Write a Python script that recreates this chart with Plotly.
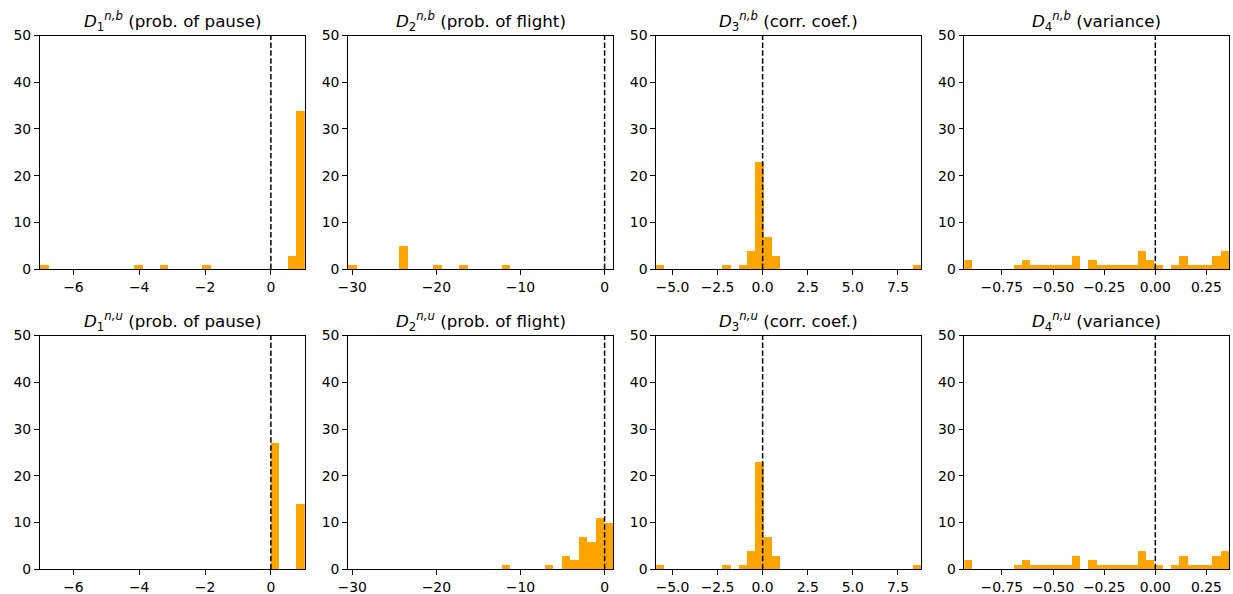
import numpy as np
import plotly.graph_objects as go

# ---------------- data ----------------
# bin ranges (min, max) and number of bins per column
p1_range, p1_nbins = (-7.02, 1.03), 31
p2_range, p2_nbins = (-30.5, 1.0), 31
p3_range, p3_nbins = (-5.9, 8.79), 32
p4_range, p4_nbins = (-0.933, 0.362), 32

# histogram counts, top row (n,b) and bottom row (n,u)
p1b_counts = [1, 0, 0, 0, 0, 0, 0, 0, 0, 0, 0, 1, 0, 0, 1, 0, 0, 0, 0, 1,
              0, 0, 0, 0, 0, 0, 0, 0, 0, 3, 34]
p1u_counts = [0, 0, 0, 0, 0, 0, 0, 0, 0, 0, 0, 0, 0, 0, 0, 0, 0, 0, 0, 0,
              0, 0, 0, 0, 0, 0, 0, 27, 0, 0, 14]
p2b_counts = [1, 0, 0, 0, 0, 0, 5, 0, 0, 0, 1, 0, 0, 1, 0, 0, 0, 0, 1, 0,
              0, 0, 0, 0, 0, 0, 0, 0, 0, 0, 0]
p2u_counts = [0, 0, 0, 0, 0, 0, 0, 0, 0, 0, 0, 0, 0, 0, 0, 0, 0, 0, 1, 0,
              0, 0, 0, 1, 0, 3, 2, 7, 6, 11, 10]
p3b_counts = [1, 0, 0, 0, 0, 0, 0, 0, 1, 0, 1, 4, 23, 7, 3, 0, 0, 0, 0, 0,
              0, 0, 0, 0, 0, 0, 0, 0, 0, 0, 0, 1]
p3u_counts = [1, 0, 0, 0, 0, 0, 0, 0, 1, 0, 1, 4, 23, 7, 3, 0, 0, 0, 0, 0,
              0, 0, 0, 0, 0, 0, 0, 0, 0, 0, 0, 1]
p4b_counts = [2, 0, 0, 0, 0, 0, 1, 2, 1, 1, 1, 1, 1, 3, 0, 2, 1, 1, 1, 1,
              1, 4, 2, 1, 0, 1, 3, 1, 1, 1, 3, 4]
p4u_counts = [2, 0, 0, 0, 0, 0, 1, 2, 1, 1, 1, 1, 1, 3, 0, 2, 1, 1, 1, 1,
              1, 4, 2, 1, 0, 1, 3, 1, 1, 1, 3, 4]

# tick values / labels per column
p1_ticks = [-6, -4, -2, 0]
p1_ticklabels = ["\u22126", "\u22124", "\u22122", "0"]
p2_ticks = [-30, -20, -10, 0]
p2_ticklabels = ["\u221230", "\u221220", "\u221210", "0"]
p3_ticks = [-5.0, -2.5, 0.0, 2.5, 5.0, 7.5]
p3_ticklabels = ["\u22125.0", "\u22122.5", "0.0", "2.5", "5.0", "7.5"]
p4_ticks = [-0.75, -0.50, -0.25, 0.00, 0.25]
p4_ticklabels = ["\u22120.75", "\u22120.50", "\u22120.25", "0.00", "0.25"]
y_ticks = [0, 10, 20, 30, 40, 50]

# subplot titles: (subscript, superscript, description)
titles_top = [("1", "n,b", "prob. of pause"), ("2", "n,b", "prob. of flight"),
              ("3", "n,b", "corr. coef."), ("4", "n,b", "variance")]
titles_bottom = [("1", "n,u", "prob. of pause"), ("2", "n,u", "prob. of flight"),
                 ("3", "n,u", "corr. coef."), ("4", "n,u", "variance")]

# ---------------- figure ----------------
W, H = 1233, 594
FONT = "DejaVu Sans"
BAR_COLOR = "#FFA500"

cols = [
    (p1_range, p1_nbins, p1b_counts, p1u_counts, p1_ticks, p1_ticklabels),
    (p2_range, p2_nbins, p2b_counts, p2u_counts, p2_ticks, p2_ticklabels),
    (p3_range, p3_nbins, p3b_counts, p3u_counts, p3_ticks, p3_ticklabels),
    (p4_range, p4_nbins, p4b_counts, p4u_counts, p4_ticks, p4_ticklabels),
]

# axes boxes in pixels
col_left = [39.8, 348.0, 656.2, 964.4]
col_width = 265.0
row_top = [35.5, 335.6]
row_height = 233.6

fig = go.Figure()
layout = dict(
    width=W, height=H,
    margin=dict(l=0, r=0, t=0, b=0, autoexpand=False),
    paper_bgcolor="white", plot_bgcolor="white",
    showlegend=False, bargap=0,
    font=dict(family=FONT, color="black", size=13.9),
    shapes=[], annotations=[],
)

idx = 0
for r in range(2):
    for c in range(4):
        idx += 1
        rng, nb, cb, cu, tv, tt = cols[c]
        counts = cb if r == 0 else cu
        edges = np.linspace(rng[0], rng[1], nb + 1)
        w = edges[1] - edges[0]
        centers = edges[:-1] + w / 2
        xa = "x" if idx == 1 else f"x{idx}"
        ya = "y" if idx == 1 else f"y{idx}"
        fig.add_trace(go.Bar(
            x=centers, y=counts, width=w,
            marker=dict(color=BAR_COLOR, line=dict(width=0)),
            xaxis=xa, yaxis=ya, hoverinfo="x+y",
        ))
        x0 = col_left[c] / W
        x1 = (col_left[c] + col_width) / W
        ytop = 1 - row_top[r] / H
        ybot = 1 - (row_top[r] + row_height) / H
        axcommon = dict(
            showline=True, mirror=True, linecolor="black", linewidth=1,
            ticks="outside", ticklen=4.9, tickwidth=1, tickcolor="black",
            showgrid=False, zeroline=False, automargin=False,
            tickfont=dict(family=FONT, size=13.9, color="black"),
        )
        layout["xaxis" if idx == 1 else f"xaxis{idx}"] = dict(
            domain=[x0, x1], anchor=ya, range=list(rng),
            tickmode="array", tickvals=tv, ticktext=tt, **axcommon)
        layout["yaxis" if idx == 1 else f"yaxis{idx}"] = dict(
            domain=[ybot, ytop], anchor=xa, range=[0, 50],
            tickmode="array", tickvals=y_ticks,
            ticktext=[str(v) for v in y_ticks], **axcommon)
        # dashed vertical line at zero
        layout["shapes"].append(dict(
            type="line", xref=xa, yref=f"{ya} domain",
            x0=0, x1=0, y0=0, y1=1,
            line=dict(color="black", width=1.5, dash="5.5px,2.4px"),
        ))
        sub, sup, desc = (titles_top if r == 0 else titles_bottom)[c]
        layout["annotations"].append(dict(
            xref="paper", yref="paper", x=(x0 + x1) / 2, y=ytop,
            xanchor="center", yanchor="bottom", yshift=0, showarrow=False,
            text=f"<i>D</i><sub>{sub}</sub><sup><i>{sup}</i></sup> ({desc})",
            font=dict(family=FONT, size=16.7, color="black"),
        ))

fig.update_layout(**layout)
fig.write_html("out.html")
